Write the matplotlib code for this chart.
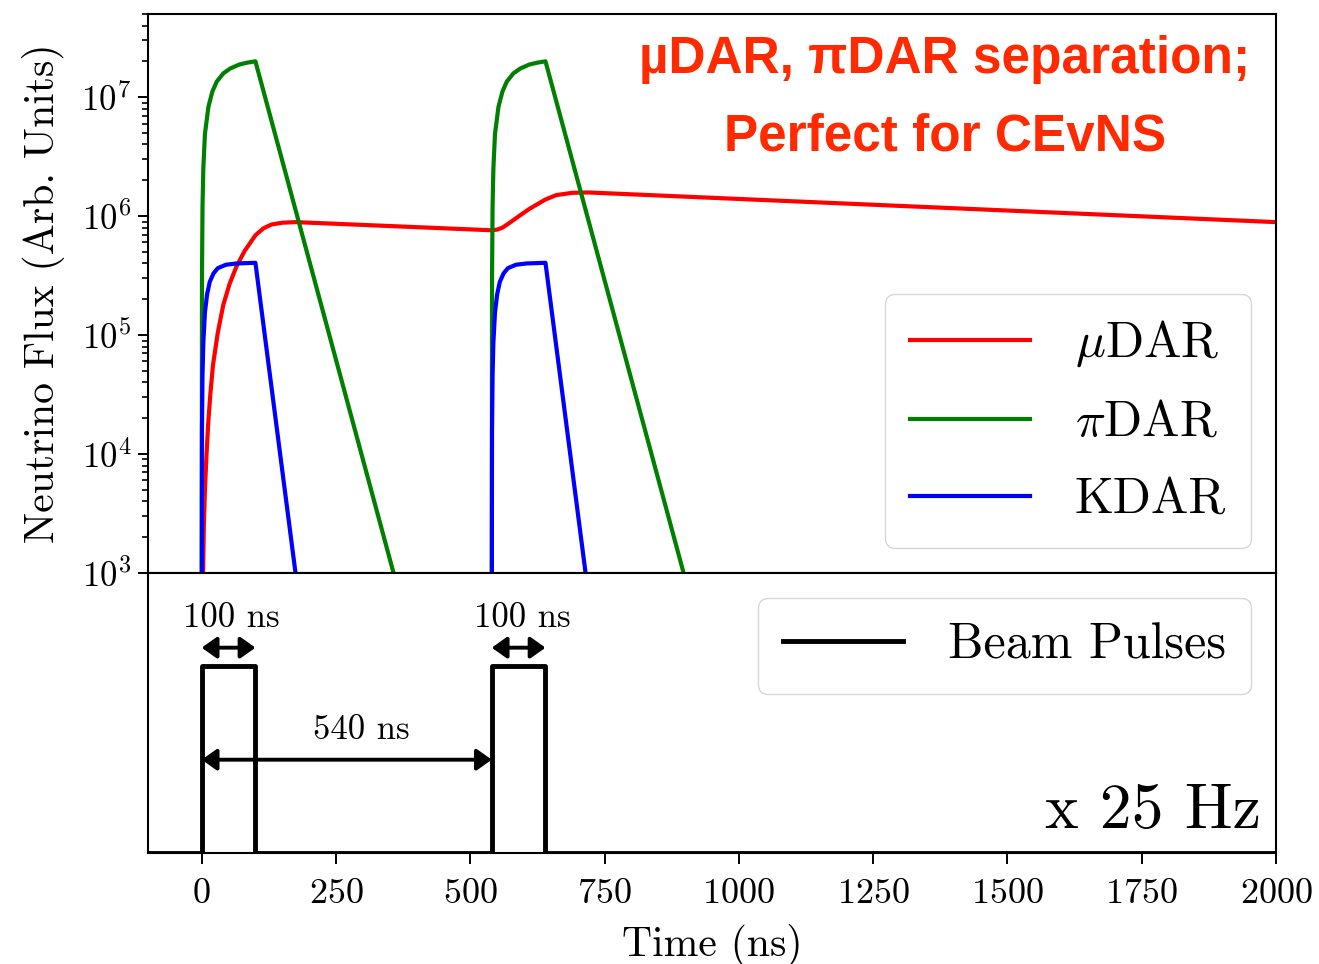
import numpy as np
import matplotlib
matplotlib.use("Agg")
import matplotlib.pyplot as plt

plt.rcParams['font.family'] = 'serif'
plt.rcParams['font.serif'] = ['cmr10']
plt.rcParams['mathtext.fontset'] = 'cm'
plt.rcParams['axes.formatter.use_mathtext'] = True

# --- data (time in ns, flux in arb. units) ---
pi_time = [0, 0.5, 1.5, 3, 6, 12.5, 20, 28, 40, 53, 70, 85, 100, 370,
           np.nan,
           540, 540.5, 541.5, 543, 546, 552.5, 560, 568, 580, 593, 610, 625, 640, 910]
pi_flux = [3e2, 3.0e5, 1.2e6, 2.5e6, 4.9e6, 8.3e6, 1.12e7, 1.35e7, 1.58e7, 1.74e7, 1.88e7, 1.95e7, 2.0e7, 6.1e2,
           np.nan,
           3e2, 3.0e5, 1.2e6, 2.5e6, 4.9e6, 8.3e6, 1.12e7, 1.35e7, 1.58e7, 1.74e7, 1.88e7, 1.95e7, 2.0e7, 6.1e2]

k_time = [0, 0.5, 1.5, 3, 6, 10, 15, 22, 30, 45, 65, 100, 180,
          np.nan,
          540, 540.5, 541.5, 543, 546, 550, 555, 562, 570, 585, 605, 640, 720]
k_flux = [3e2, 1.6e4, 4.6e4, 8.6e4, 1.55e5, 2.2e5, 2.8e5, 3.3e5, 3.65e5, 3.9e5, 4.0e5, 4.05e5, 6.5e2,
          np.nan,
          3e2, 1.6e4, 4.6e4, 8.6e4, 1.55e5, 2.2e5, 2.8e5, 3.3e5, 3.65e5, 3.9e5, 4.0e5, 4.05e5, 6.5e2]

mu_time = [1.5, 2.5, 4, 6, 9, 12, 16, 21, 30, 40, 52, 65, 80, 100, 115, 130, 150, 175,
           540, 550, 560, 575, 590, 610, 640, 660, 690, 720, 2000]
mu_flux = [4.0e2, 1.0e3, 2.5e3, 5.0e3, 1.0e4, 1.78e4, 3.16e4, 5.6e4, 1.05e5, 1.78e5, 2.7e5, 3.8e5, 5.1e5,
           6.9e5, 7.9e5, 8.5e5, 8.8e5, 8.9e5,
           7.6e5, 7.7e5, 8.0e5, 8.9e5, 9.95e5, 1.15e6, 1.38e6, 1.50e6, 1.57e6, 1.58e6, 8.9e5]

beam_time = [-100, 0, 0, 100, 100, 540, 540, 640, 640, 2000]
beam_level = [0, 0, 1, 1, 0, 0, 1, 1, 0, 0]

xticks = [0, 250, 500, 750, 1000, 1250, 1500, 1750, 2000]

fig = plt.figure(figsize=(13.19, 9.64), dpi=100)
ax1 = fig.add_axes([0.1122, 0.4056, 0.8552, 0.5799])
ax2 = fig.add_axes([0.1122, 0.1151, 0.8552, 0.2905], sharex=ax1)

# top panel: neutrino flux
ax1.plot(mu_time, mu_flux, color='red', lw=3, label=r'$\mu$DAR')
ax1.plot(pi_time, pi_flux, color='green', lw=3, label=r'$\pi$DAR')
ax1.plot(k_time, k_flux, color='blue', lw=3, label='KDAR')
ax1.set_yscale('log')
ax1.set_ylim(1e3, 5e7)
ax1.set_xlim(-100, 2000)
ax1.set_ylabel('Neutrino Flux (Arb. Units)', fontsize=30, labelpad=12)
ax1.tick_params(axis='x', which='both', bottom=False, labelbottom=False)
ax1.tick_params(axis='y', which='major', labelsize=25, length=7, width=1.4, pad=5)
ax1.tick_params(axis='y', which='minor', length=4, width=1.2)
ax1.legend(loc='lower right', fontsize=36, handlelength=2.4, handletextpad=0.9,
           labelspacing=0.62, borderpad=0.5)

red_txt = '#ff2a00'
ax1.text(0.7066, 0.894, u'\u00b5DAR, \u03c0DAR separation;', transform=ax1.transAxes,
         ha='center', va='baseline', fontsize=37, fontweight='bold', color=red_txt,
         family=['Liberation Sans', 'DejaVu Sans'])
ax1.text(0.7066, 0.755, 'Perfect for CEvNS', transform=ax1.transAxes,
         ha='center', va='baseline', fontsize=37, fontweight='bold', color=red_txt,
         family=['Liberation Sans', 'DejaVu Sans'])

# bottom panel: beam pulses
ax2.plot(beam_time, beam_level, color='black', lw=3.5, label='Beam Pulses')
ax2.set_ylim(0, 1.5)
ax2.set_yticks([])
ax2.set_xticks(xticks)
ax2.tick_params(axis='x', labelsize=26, length=8, width=1.4, pad=10)
ax2.set_xlabel('Time (ns)', fontsize=30, labelpad=10)
ax2.legend(loc='upper right', fontsize=36, handlelength=2.4, handletextpad=0.9,
           borderpad=0.5)

arrow = dict(arrowstyle='<|-|>,head_length=0.45,head_width=0.32', lw=2.8, color='black',
             mutation_scale=20, shrinkA=0, shrinkB=0)
ax2.annotate('', xy=(0, 1.10), xytext=(100, 1.10), arrowprops=arrow)
ax2.annotate('', xy=(540, 1.10), xytext=(640, 1.10), arrowprops=arrow)
ax2.annotate('', xy=(0, 0.5), xytext=(540, 0.5), arrowprops=arrow)
ax2.text(56, 1.26, '100 ns', ha='center', va='center', fontsize=25)
ax2.text(596, 1.26, '100 ns', ha='center', va='center', fontsize=25)
ax2.text(297, 0.66, '540 ns', ha='center', va='center', fontsize=25)
ax2.text(1972, 0.134, 'x 25 Hz', ha='right', va='baseline', fontsize=46)

for ax in (ax1, ax2):
    for sp in ax.spines.values():
        sp.set_linewidth(1.5)

fig.savefig('out.png', dpi=100)
